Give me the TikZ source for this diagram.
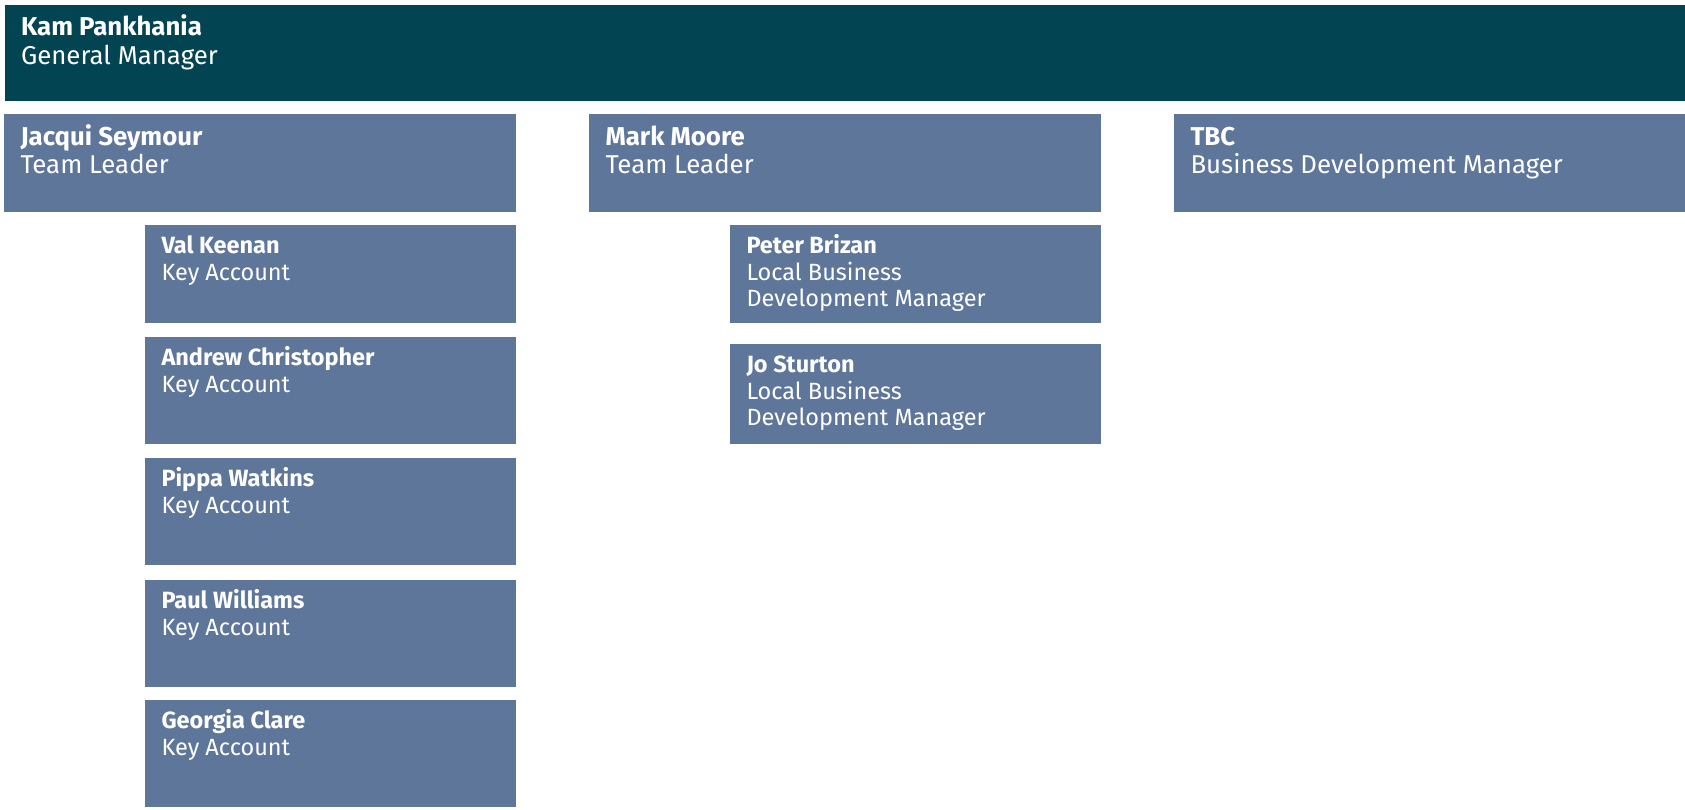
\documentclass[tikz,border=0pt]{standalone}
\usepackage{fontspec}
\setmainfont{Fira Sans}
\usetikzlibrary{calc}
\definecolor{gmteal}{RGB}{3,68,83}
\definecolor{slate}{RGB}{95,118,155}
\tikzset{
  boxbase/.style={draw=none, inner sep=0pt, outer sep=0pt, anchor=north west},
  topbox/.style={boxbase, fill=gmteal},
  orgbox/.style={boxbase, fill=slate},
  toptext/.style={anchor=base west, inner sep=0pt, outer sep=0pt, text=white,
    font=\fontsize{25.8}{28.5}\selectfont},
  subtext/.style={anchor=base west, inner sep=0pt, outer sep=0pt, text=white,
    font=\fontsize{23.5}{26.5}\selectfont},
}
\newcommand{\orgtext}[2]{\parbox[t]{500pt}{\raggedright\textbf{#1}\\#2}}
\begin{document}
\begin{tikzpicture}[x=1pt,y=-1pt]
\useasboundingbox (0,0) rectangle (1685,809);
% general manager
\node[topbox, minimum width=1680pt, minimum height=95.5pt] (kam) at (5,5) {};
% team leaders
\node[orgbox, minimum width=512pt, minimum height=97.7pt] (jacqui) at (4,114) {};
\node[orgbox, minimum width=512pt, minimum height=97.7pt] (mark) at (589,114) {};
\node[orgbox, minimum width=511pt, minimum height=97.7pt] (tbc) at (1174,114) {};
% key accounts
\node[orgbox, minimum width=371pt, minimum height=97.7pt] (val) at (145,225) {};
\node[orgbox, minimum width=371pt, minimum height=106.7pt] (andrew) at (145,337) {};
\node[orgbox, minimum width=371pt, minimum height=106.7pt] (pippa) at (145,458) {};
\node[orgbox, minimum width=371pt, minimum height=106.7pt] (paul) at (145,580) {};
\node[orgbox, minimum width=371pt, minimum height=106.7pt] (georgia) at (145,700) {};
% local business development
\node[orgbox, minimum width=371pt, minimum height=97.7pt] (peter) at (730,225) {};
\node[orgbox, minimum width=371pt, minimum height=99.7pt] (jo) at (730,344) {};
% texts
\node[toptext] (kamT) at ($(kam.north west)+(16,30.7)$) {\orgtext{Kam Pankhania}{General Manager}};
\node[toptext] (jacquiT) at ($(jacqui.north west)+(16.5,31)$) {\orgtext{Jacqui Seymour}{Team Leader}};
\node[toptext] (markT) at ($(mark.north west)+(16.5,31)$) {\orgtext{Mark Moore}{Team Leader}};
\node[toptext] (tbcT) at ($(tbc.north west)+(16.5,31)$) {\orgtext{TBC}{Business Development Manager}};
\node[subtext] (valT) at ($(val.north west)+(16.5,28.8)$) {\orgtext{Val Keenan}{Key Account}};
\node[subtext] (andrewT) at ($(andrew.north west)+(16.5,28.8)$) {\orgtext{Andrew Christopher}{Key Account}};
\node[subtext] (pippaT) at ($(pippa.north west)+(16.5,28.8)$) {\orgtext{Pippa Watkins}{Key Account}};
\node[subtext] (paulT) at ($(paul.north west)+(16.5,28.8)$) {\orgtext{Paul Williams}{Key Account}};
\node[subtext] (georgiaT) at ($(georgia.north west)+(16.5,28.8)$) {\orgtext{Georgia Clare}{Key Account}};
\node[subtext] (peterT) at ($(peter.north west)+(16.5,28.5)$) {\orgtext{Peter Brizan}{Local Business\\Development Manager}};
\node[subtext] (joT) at ($(jo.north west)+(16.5,28.7)$) {\orgtext{Jo Sturton}{Local Business\\Development Manager}};
\end{tikzpicture}
\end{document}
